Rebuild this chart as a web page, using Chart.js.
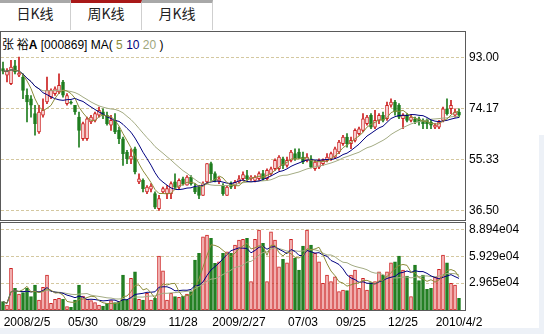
<!DOCTYPE html>
<html>
<head>
<meta charset="utf-8">
<script src="https://cdn.jsdelivr.net/npm/chart.js@4.4.1/dist/chart.umd.min.js"></script>
<style>
  body { margin: 0; width: 544px; height: 334px; overflow: hidden; background: #fff; position: relative; font-family: "Liberation Sans", Arial, sans-serif; }
  .tab { position: absolute; top: 0; width: 70px; height: 27px; border-top: 3px solid #a8a8a8; border-right: 1px solid #cfcfcf; text-align: center; line-height: 27px; font: 14px "Noto Sans CJK SC", sans-serif; color: #222; }
  .tab.on { border-top-color: #a81818; }
  #title { position: absolute; left: 2px; top: 35px; font-size: 12px; color: #000; white-space: pre; }
  #title .cn { font-family: "Noto Sans CJK SC", sans-serif; }
  .strip { position: absolute; background: #edf1f7; }
  canvas { position: absolute; left: 0; }
</style>
</head>
<body>
<div class="strip" style="left:539px;top:135px;width:5px;height:199px"></div>
<div class="strip" style="left:0;top:328px;width:544px;height:6px"></div>
<div class="tab" style="left:0">日K线</div>
<div class="tab on" style="left:71px">周K线</div>
<div class="tab" style="left:142px">月K线</div>
<div id="title"><span class="cn">张 裕</span><b>A</b> [000869] MA( <span style="color:#8c8c3a">5</span> <span style="color:#000080">10</span> <span style="color:#9ea67c">20</span> )</div>
<canvas id="price" width="544" height="191" style="top:31px"></canvas>
<canvas id="vol" width="544" height="112" style="top:222px"></canvas>
<script>
// weekly candles, 000869, 2008/1 - 2010/4
const opens = [89, 86.5, 83.4, 90, 86.5, 85.8, 79.1, 77.8, 72.3, 65.5,
  71.7, 76.6, 78.5, 79.7, 80.3, 84, 76, 76.5, 75.4, 71,
  63, 63, 69.2, 69.8, 71.7, 73, 71.7, 68, 69.8, 66.1,
  63, 58, 55.4, 59.3, 47, 47.6, 43.3, 44.3, 42.7, 37.1,
  43.3, 42.7, 42.7, 47, 45.1, 48.2, 45.8, 48.8, 45.1, 45.1,
  42, 47, 53.8, 50.1, 47.3, 45.7, 42, 46.4, 45.7, 47,
  48.2, 49.4, 48.2, 47.6, 48.2, 50.1, 48.2, 50.1, 51.9, 51.9,
  55.6, 53.1, 55, 57.5, 58.1, 56.2, 55, 55.6, 51.9, 52.5,
  53.8, 55, 55.6, 56.2, 58.1, 61.2, 63.6, 61.2, 62.4, 64.9,
  66.1, 68.6, 71.7, 67.3, 69.8, 71.7, 70.4, 75.4, 76.6, 75.4,
  70.4, 71.7, 69.8, 70.4, 70.4, 69.8, 69.8, 69.2, 67.3, 67.3,
  69.8, 74.1, 74.1, 71.7, 72.9];
const highs = [91.4, 89, 92, 92, 93.2, 87, 81.5, 79, 75.4, 75.4,
  77.8, 85.8, 81.5, 82.2, 87, 84.6, 79.7, 77, 75.4, 72.9,
  69.2, 71, 71.7, 72.9, 74.7, 74.1, 72.9, 71.7, 72.3, 67.3,
  63.6, 58.7, 59.3, 59.9, 50, 48.2, 45.7, 46.4, 43.3, 42,
  45.1, 45.7, 47, 50, 48.2, 48.8, 49.4, 49.4, 46.4, 45.7,
  47, 53.8, 54.4, 50.7, 48.8, 46.4, 45.7, 47, 47.6, 49.4,
  50.7, 51.3, 49.4, 49.4, 50.7, 51.3, 51.9, 52.5, 55.6, 56.8,
  56.2, 56.2, 58.7, 59.3, 59.3, 58.1, 57.5, 56.8, 55, 55.6,
  55.6, 57.5, 58.1, 59.9, 62.4, 64.3, 64.9, 63.6, 66.7, 67.3,
  72.3, 71.7, 72.3, 73.5, 72.3, 72.9, 76.6, 77.8, 77.2, 76,
  72.3, 72.3, 71.7, 71, 71, 70.4, 70.4, 69.8, 68.6, 69.8,
  74.7, 77.8, 77.2, 74.1, 74.1];
const lows = [87, 84, 83, 87, 86, 77.8, 69.2, 71, 64.3, 65,
  71, 76, 77.8, 79, 79.7, 78.4, 75.4, 75.8, 72, 59.9,
  62.4, 62.4, 68.6, 69.2, 71, 70.4, 68, 66.1, 64.9, 61.2,
  53.1, 53.8, 53.8, 50, 46.4, 43.3, 42.7, 43.3, 37.1, 36.5,
  42.7, 40.8, 40.8, 44.5, 44.5, 45.8, 45.8, 45.8, 42.7, 40.8,
  42, 46.4, 47.6, 47, 46.4, 42, 42, 44.5, 44.5, 46.4,
  47.6, 47.6, 47.6, 47, 47.6, 47.6, 47.6, 49.4, 51.3, 51.3,
  51.9, 52.5, 54.4, 55, 55.6, 53.8, 54.4, 52.2, 51.3, 51.9,
  53.1, 54.4, 55, 55.6, 57.5, 60.5, 59.9, 59.3, 61.8, 64.3,
  65.5, 68, 66.7, 66.7, 68.6, 69.2, 69.8, 74.7, 71.7, 70.4,
  66.7, 69.2, 69.2, 68.6, 68, 66.7, 66.7, 66.7, 66.7, 66.7,
  69.2, 71.7, 72.3, 71, 71];
const closes = [88, 88, 89.5, 87.7, 87.3, 80.9, 76.6, 75.4, 68.6, 72.9,
  73.5, 80.9, 80.9, 81.5, 82.8, 79.1, 79, 76.2, 72.9, 66.1,
  68.6, 70.4, 71, 72.3, 73.5, 71.7, 68.6, 69.8, 65.5, 63,
  57.5, 55.6, 56.6, 50.7, 48.2, 44.5, 45.1, 45.5, 37.7, 40.8,
  44.5, 44.5, 46.4, 45.1, 47.6, 46.4, 48.8, 46.4, 43.3, 42,
  46.4, 53.8, 50.1, 47.6, 48.2, 42.7, 45.1, 45.1, 46.9, 48.2,
  49.7, 48.2, 48.8, 48.8, 50.1, 48.2, 51.3, 51.9, 55, 56.2,
  53.1, 55, 58.1, 55.6, 55.9, 54.4, 56.2, 52.5, 54.4, 55,
  55, 56.2, 57.5, 59.3, 61.8, 63.6, 61.2, 62.4, 66.1, 66.7,
  70.4, 71, 67.3, 69.8, 71.7, 69.8, 75.4, 76.6, 72.9, 71,
  71.7, 69.8, 71, 69.2, 69.2, 68.6, 68.6, 68, 68, 69.2,
  74.1, 72.3, 75.4, 72.9, 71.7];
const volumes = [9200, 5500, 45900, 23900, 17600, 19100, 23900, 14700, 27500, 11000,
  25000, 38500, 7300, 11700, 12800, 11700, 3700, 2900, 11000, 27500,
  15400, 11700, 10300, 8100, 5500, 4400, 7300, 10300, 8100, 9200,
  38500, 11000, 34900, 42200, 11700, 11000, 18400, 11000, 12800, 59500,
  43300, 11000, 18400, 14700, 13900, 15400, 17600, 20200, 55000, 62400,
  80700, 82600, 78900, 51400, 53200, 62400, 64200, 62400, 71600, 77100,
  77800, 78900, 31200, 77800, 88100, 73400, 31200, 86200, 77100, 47700,
  55800, 52100, 77800, 56900, 44000, 70500, 88100, 71600, 62400, 53200,
  29400, 38500, 31200, 36700, 20200, 22000, 21300, 38500, 44000, 23900,
  34900, 22000, 30100, 31200, 42200, 38500, 42200, 52100, 53200, 59500,
  44000, 37400, 14700, 49500, 32300, 38500, 22800, 23900, 36000, 44800,
  60600, 52100, 29400, 27500, 12800];

const tickIdx = [6, 20, 32, 45, 59, 75, 87, 100, 114];
const tickText = ['2008/2/5', '05/30', '08/29', '11/28', '2009/2/27', '07/03', '09/25', '12/25', '2010/4/2'];
const priceTicks = [36.5, 55.33, 74.17, 93.0];
const volTicks = [29650, 59290, 88940];
const volTickText = ['2.965e04', '5.929e04', '8.894e04'];
const maPeriods = [5, 10, 20];

const maColors = ['#8c8c3a', '#000080', '#a3ab83'];
const RED = '#cc2020', GREEN = '#1f7d1f';
const FONT = { family: '"Liberation Sans", Arial, sans-serif', size: 12 };

const slots = 116;
const labels = Array.from({ length: slots }, (_, i) => {
  const k = tickIdx.indexOf(i);
  return k >= 0 ? tickText[k] : '';
});
const up = closes.map((c, i) => c >= opens[i]);

function ma(arr, k) {
  return arr.map((_, i) => {
    const s = arr.slice(Math.max(0, i - k + 1), i + 1);
    return s.reduce((a, b) => a + b, 0) / s.length;
  });
}

const framePlugin = {
  id: 'frame',
  afterDraw(chart) {
    const a = chart.chartArea, ctx = chart.ctx;
    ctx.save();
    ctx.strokeStyle = '#5a5a5a';
    ctx.lineWidth = 1;
    ctx.strokeRect(a.left - 0.5, a.top - 0.5, a.right - a.left + 1, a.bottom - a.top + 1);
    ctx.restore();
  }
};

// keep the y labels from pushing the plot area in
const fitY = s => { s.width = 79; s.paddingTop = 0; s.paddingBottom = 0; };

const gridStyle = { color: '#d4c8a0', drawTicks: false };
const maLines = (src) => maPeriods.map((p, j) => ({
  type: 'line', data: ma(src, p), borderColor: maColors[j], borderWidth: 1,
  pointRadius: 0, tension: 0, order: 0
}));

new Chart(document.getElementById('price'), {
  type: 'bar',
  data: {
    labels: labels,
    datasets: [
      {
        data: lows.map((l, i) => [l, highs[i]]),
        backgroundColor: up.map(u => u ? RED : GREEN),
        barThickness: 1, grouped: false, order: 3
      },
      {
        data: opens.map((o, i) => [o, closes[i]]),
        backgroundColor: up.map(u => u ? '#fff2f2' : GREEN),
        borderColor: up.map(u => u ? RED : GREEN),
        borderWidth: 1, borderSkipped: false, minBarLength: 1,
        barThickness: 3, grouped: false, order: 2
      },
      ...maLines(closes)
    ]
  },
  options: {
    responsive: false, animation: false,
    layout: { padding: { left: 1, top: 1, right: 0, bottom: 2 } },
    plugins: { legend: { display: false }, tooltip: { enabled: false } },
    scales: {
      x: { display: false, offset: true, grid: { display: false } },
      y: {
        position: 'right', min: 32.91, max: 102.52,
        afterBuildTicks: s => { s.ticks = priceTicks.map(v => ({ value: v })); },
        afterFit: fitY,
        ticks: { color: '#000', font: FONT, padding: 4, callback: v => v.toFixed(2) },
        grid: gridStyle,
        border: { display: false, dash: [3, 2] }
      }
    }
  },
  plugins: [framePlugin]
});

new Chart(document.getElementById('vol'), {
  type: 'bar',
  data: {
    labels: labels,
    datasets: [
      {
        data: volumes,
        backgroundColor: up.map(u => u ? '#f8c6c6' : GREEN),
        borderColor: up.map(u => u ? RED : GREEN),
        borderWidth: 1, borderSkipped: false,
        barThickness: 3, order: 2
      },
      ...maLines(volumes)
    ]
  },
  options: {
    responsive: false, animation: false,
    layout: { padding: { left: 1, top: 1, right: 0, bottom: 0 } },
    plugins: { legend: { display: false }, tooltip: { enabled: false } },
    scales: {
      x: {
        offset: true, grid: { display: false, drawTicks: false }, border: { display: false },
        afterFit: s => { s.height = 24; s.paddingLeft = 0; s.paddingRight = 0; },
        ticks: { autoSkip: false, maxRotation: 0, color: '#000', font: FONT, padding: 5 }
      },
      y: {
        position: 'right', min: 0, max: 95900,
        afterBuildTicks: s => { s.ticks = volTicks.map(v => ({ value: v })); },
        afterFit: fitY,
        ticks: { color: '#000', font: FONT, padding: 4, callback: v => volTickText[volTicks.indexOf(v)] },
        grid: gridStyle,
        border: { display: false, dash: [3, 2] }
      }
    }
  },
  plugins: [framePlugin]
});
</script>
</body>
</html>
